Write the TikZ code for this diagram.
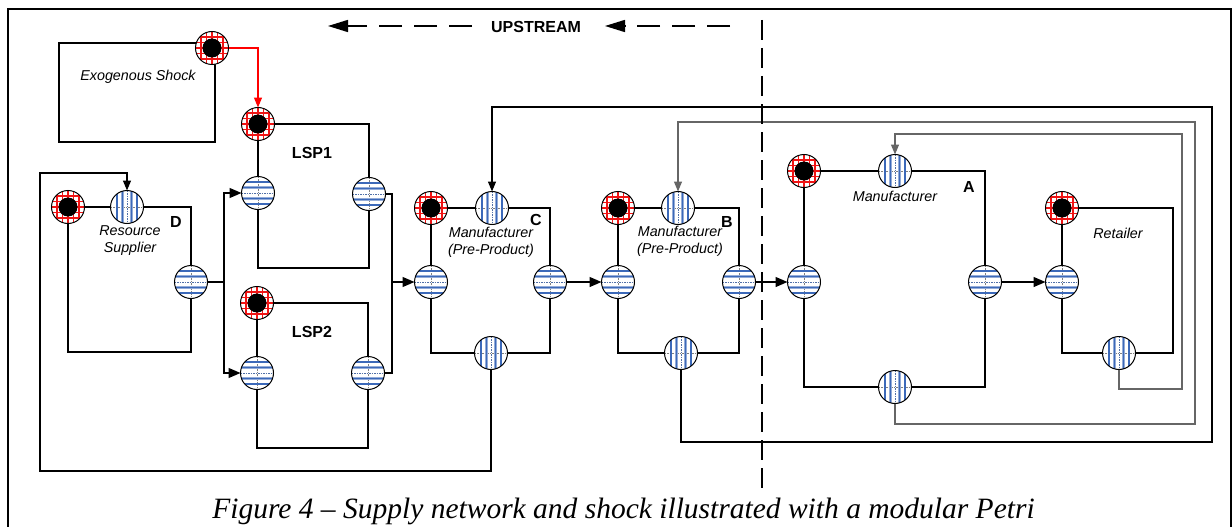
\documentclass[tikz,border=0pt]{standalone}
\usepackage{fontspec}
\setmainfont{Liberation Serif}
\setsansfont{Liberation Sans}
\usetikzlibrary{arrows.meta}
\definecolor{pblue}{RGB}{60,105,185}
\definecolor{pred}{RGB}{240,20,20}
\begin{document}
\begin{tikzpicture}[x=1pt,y=-1pt,
  box/.style={draw, line width=1.4pt, inner sep=0pt, outer sep=0pt},
  basep/.style={circle, draw, line width=1pt, minimum size=33pt, inner sep=0pt, outer sep=0pt, fill=white},
  redp/.style={basep, path picture={
    \foreach \k in {-16.5,-11,-5.5,0,5.5,11,16.5} {
      \draw[pred, line width=1.9pt] ([xshift=\k pt]path picture bounding box.north) -- ([xshift=\k pt]path picture bounding box.south);
      \draw[pred, line width=1.9pt] ([yshift=\k pt]path picture bounding box.west) -- ([yshift=\k pt]path picture bounding box.east);
    }
    \fill[black] (path picture bounding box.center) circle[radius=9.5pt];
  }},
  hp/.style={basep, path picture={
    \draw[gray, line width=0.6pt, dash pattern=on 1.5pt off 1pt] (path picture bounding box.north) -- (path picture bounding box.south);
    \draw[pblue!70!gray, line width=0.9pt, dash pattern=on 1.5pt off 1pt] (path picture bounding box.west) -- (path picture bounding box.east);
    \foreach \k in {-11,-5.5,5.5,11}
      \draw[pblue!55, line width=2.6pt] ([yshift=\k pt]path picture bounding box.west) -- ([yshift=\k pt]path picture bounding box.east);
    \foreach \k in {-11,-5.5,5.5,11}
      \draw[pblue, line width=1.2pt] ([yshift=\k pt]path picture bounding box.west) -- ([yshift=\k pt]path picture bounding box.east);
  }},
  vp/.style={basep, path picture={
    \draw[gray, line width=0.6pt, dash pattern=on 1.5pt off 1pt] (path picture bounding box.west) -- (path picture bounding box.east);
    \draw[pblue!70!gray, line width=0.9pt, dash pattern=on 1.5pt off 1pt] (path picture bounding box.north) -- (path picture bounding box.south);
    \foreach \k in {-10,-4.5,4.5,10}
      \draw[pblue!55, line width=2.6pt] ([xshift=\k pt]path picture bounding box.north) -- ([xshift=\k pt]path picture bounding box.south);
    \foreach \k in {-10,-4.5,4.5,10}
      \draw[pblue, line width=1.2pt] ([xshift=\k pt]path picture bounding box.north) -- ([xshift=\k pt]path picture bounding box.south);
  }},
  conn/.style={line width=1.3pt},
  arr/.style={conn, -{Triangle[length=12pt,width=10pt]}},
  farr/.style={conn, -{Triangle[length=10pt,width=8pt]}},
  garr/.style={line width=1.2pt, draw=black!60, -{Triangle[length=10pt,width=8pt]}},
  lab/.style={font=\sffamily\itshape\fontsize{14.3}{17}\selectfont, align=center, inner sep=0pt},
  tag/.style={font=\sffamily\bfseries\fontsize{16}{19}\selectfont, inner sep=0pt}
]
\useasboundingbox (0,0) rectangle (1232,527);
\fill[white] (0,0) rectangle (1232,527);
% outer frame
\draw[line width=2.4pt] (8,560) -- (8,9) -- (1231,9) -- (1231,560);

% boxes
\node[box, minimum width=156pt, minimum height=99pt] (exoBox) at (137,92.5) {};
\node[box, minimum width=123pt, minimum height=145pt] (dBox) at (129.5,279.5) {};
\node[box, minimum width=111pt, minimum height=144pt] (l1Box) at (313.5,196) {};
\node[box, minimum width=111pt, minimum height=145pt] (l2Box) at (312.5,375.5) {};
\node[box, minimum width=119pt, minimum height=145pt] (cBox) at (490.5,280.5) {};
\node[box, minimum width=121pt, minimum height=145pt] (bBox) at (678.5,280.5) {};
\node[box, minimum width=181pt, minimum height=216pt] (aBox) at (894.5,279) {};
\node[box, minimum width=111pt, minimum height=145pt] (rBox) at (1117.5,280.5) {};

% places
\node[redp] (ex) at (212,48) {};
\node[redp] (dR) at (68,207) {};
\node[vp] (dT) at (127,207) {};
\node[hp] (dO) at (191,282) {};
\node[redp] (l1R) at (258,124) {};
\node[hp] (l1I) at (258,193) {};
\node[hp] (l1O) at (369,194) {};
\node[redp] (l2R) at (257,303) {};
\node[hp] (l2I) at (257,373) {};
\node[hp] (l2O) at (368,373) {};
\node[redp] (cR) at (431,208) {};
\node[vp] (cT) at (492,208) {};
\node[hp] (cI) at (431,282) {};
\node[hp] (cO) at (550,282) {};
\node[vp] (cB) at (491,353) {};
\node[redp] (bR) at (618,208) {};
\node[vp] (bT) at (678,208) {};
\node[hp] (bI) at (618,282) {};
\node[hp] (bO) at (739,282) {};
\node[vp] (bB) at (681,353) {};
\node[redp] (aR) at (804,171) {};
\node[vp] (aT) at (895,171) {};
\node[hp] (aI) at (804,282) {};
\node[hp] (aO) at (985,282) {};
\node[vp] (aB) at (895,387) {};
\node[redp] (rR) at (1062,208) {};
\node[hp] (rI) at (1062,282) {};
\node[vp] (rB) at (1119,353) {};

% labels
\node[lab] (exoL) at (138,77) {Exogenous Shock};
\node[tag] (lsp1L) at (312,153) {LSP1};
\node[tag] (lsp2L) at (312,332) {LSP2};
\node[tag] (dL) at (176,222) {D};
\node[lab] (dN) at (130,241) {Resource\\Supplier};
\node[tag] (cL) at (536,220) {C};
\node[lab] (cN) at (491,242) {Manufacturer\\(Pre-Product)};
\node[tag] (bL) at (727,222) {B};
\node[lab] (bN) at (680,241) {Manufacturer\\(Pre-Product)};
\node[tag] (aL) at (969,187) {A};
\node[lab] (aN) at (895,196) {Manufacturer};
\node[lab] (rN) at (1118,233) {Retailer};

% shock arrow
\draw[red, line width=1.2pt, -{Triangle[length=10pt,width=8pt]}] (ex.east) -| (l1R.north);

% forward flow
\coordinate (jD) at (224,282);
\draw[conn] (dO) -- (jD);
\draw[arr] (jD) |- (l1I);
\draw[arr] (jD) |- (l2I);
\coordinate (jL) at (392,282);
\draw[conn] (l1O) -| (jL);
\draw[conn] (l2O) -| (jL);
\draw[arr] (jL) -- (cI);
\draw[arr] (cO) -- (bI);
\draw[arr] (bO) -- (aI);
\draw[arr] (aO) -- (rI);

% feedback loops
\draw[farr] (cB) -- ++(0,118) -| (40,173) -| (dT);
\draw[farr] (bB) -- ++(0,89) -| (1212,107) -| (cT);
\draw[garr] (aB) -- ++(0,37) -| (1195,122) -| (bT);
\draw[garr] (rB) -- ++(0,36) -| (1182,134) -| (aT);

% upstream
\node[tag] (up) at (536,27) {UPSTREAM};
\coordinate (u1s) at (472,26);
\coordinate (u1e) at (328,26);
\coordinate (u2s) at (730,26);
\coordinate (u2e) at (605,26);
\draw[line width=1.5pt, dash pattern=on 23pt off 12pt, -{Triangle[length=20pt,width=12pt]}] (u1s) -- (u1e);
\draw[line width=1.5pt, dash pattern=on 23pt off 12pt, -{Triangle[length=20pt,width=12pt]}] (u2s) -- (u2e);

% divider
\coordinate (vt) at (762,20);
\coordinate (vb) at (762,490);
\draw[line width=1.6pt, dash pattern=on 20pt off 8pt] (vt) -- (vb);

% caption
\node[font=\itshape\fontsize{29.5}{34}\selectfont, anchor=base, inner sep=0pt] (cap) at (623.5,518) {Figure 4 – Supply network and shock illustrated with a modular Petri};
\end{tikzpicture}
\end{document}
